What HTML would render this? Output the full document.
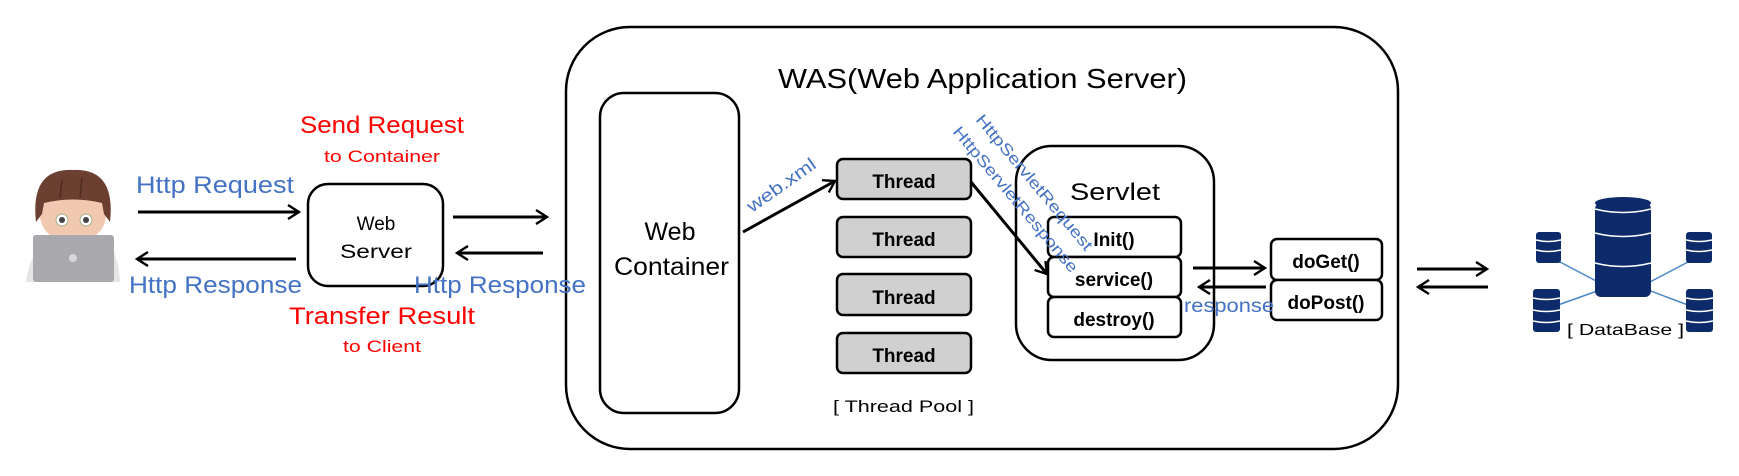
<!DOCTYPE html>
<html><head><meta charset="utf-8"><style>
html,body{margin:0;padding:0;background:#fff;}
svg{display:block;}
text{font-family:"Liberation Sans",sans-serif;}
</style></head><body>
<svg width="1739" height="476" viewBox="0 0 1739 476" xmlns="http://www.w3.org/2000/svg">
<defs>
<marker id="ah" viewBox="0 0 14 16" refX="12" refY="8" markerWidth="14" markerHeight="16" markerUnits="userSpaceOnUse" orient="auto">
<path d="M1,1 L12,8 L1,15" fill="none" stroke="#000" stroke-width="2.4"/>
</marker>
</defs>
<g fill="none" stroke="#000" stroke-width="2.5">
<rect x="566" y="27" width="832" height="422" rx="64"/>
<rect x="600" y="93" width="139" height="320" rx="24"/>
<rect x="308" y="184" width="135" height="102" rx="20"/>
<rect x="1016" y="146" width="198" height="214" rx="36"/>
</g>
<g fill="#d0d0d0" stroke="#000" stroke-width="2.5">
<rect x="837" y="159" width="134" height="40" rx="6"/>
<rect x="837" y="217" width="134" height="40" rx="6"/>
<rect x="837" y="274" width="134" height="41" rx="6"/>
<rect x="837" y="333" width="134" height="40" rx="6"/>
</g>
<g fill="#fff" stroke="#000" stroke-width="2.5">
<rect x="1048" y="217" width="133" height="40" rx="6"/>
<rect x="1048" y="257" width="133" height="40" rx="6"/>
<rect x="1048" y="297" width="133" height="40" rx="6"/>
<rect x="1271" y="239" width="111" height="41" rx="6"/>
<rect x="1271" y="280" width="111" height="40" rx="6"/>
</g>
<g stroke="#000" stroke-width="3" marker-end="url(#ah)">
<line x1="138" y1="212" x2="299" y2="212"/>
<line x1="296" y1="259" x2="137" y2="259"/>
<line x1="453" y1="217" x2="547" y2="217"/>
<line x1="543" y1="253" x2="457" y2="253"/>
<line x1="743" y1="232" x2="835" y2="181"/>
<line x1="971" y1="182" x2="1047" y2="274"/>
<line x1="1193" y1="268" x2="1265" y2="268"/>
<line x1="1266" y1="287" x2="1199" y2="287"/>
<line x1="1417" y1="269" x2="1487" y2="269"/>
<line x1="1488" y1="287" x2="1418" y2="287"/>
</g>
<g fill="#000">
<text x="778" y="88" font-size="28" textLength="409" lengthAdjust="spacingAndGlyphs">WAS(Web Application Server)</text>
<text x="670" y="240" font-size="25" text-anchor="middle" font-weight="500">Web</text>
<text x="614" y="275" font-size="25" textLength="115" lengthAdjust="spacingAndGlyphs">Container</text>
<text x="376" y="230" font-size="19" text-anchor="middle">Web</text>
<text x="340" y="258" font-size="19" textLength="72" lengthAdjust="spacingAndGlyphs">Server</text>
<text x="904" y="188" font-size="19" text-anchor="middle" font-weight="bold">Thread</text>
<text x="904" y="246" font-size="19" text-anchor="middle" font-weight="bold">Thread</text>
<text x="904" y="304" font-size="19" text-anchor="middle" font-weight="bold">Thread</text>
<text x="904" y="362" font-size="19" text-anchor="middle" font-weight="bold">Thread</text>
<text x="833" y="412" font-size="17" textLength="141" lengthAdjust="spacingAndGlyphs">[ Thread Pool ]</text>
<text x="1070" y="200" font-size="24" textLength="90" lengthAdjust="spacingAndGlyphs">Servlet</text>
<text x="1114" y="246" font-size="19" text-anchor="middle" font-weight="bold">Init()</text>
<text x="1114" y="286" font-size="19" text-anchor="middle" font-weight="bold">service()</text>
<text x="1114" y="326" font-size="19" text-anchor="middle" font-weight="bold">destroy()</text>
<text x="1326" y="268" font-size="19" text-anchor="middle" font-weight="bold">doGet()</text>
<text x="1326" y="309" font-size="19" text-anchor="middle" font-weight="bold">doPost()</text>
<text x="1567" y="335" font-size="16" textLength="117" lengthAdjust="spacingAndGlyphs">[ DataBase ]</text>
</g>
<g fill="#4472C4">
<text x="136" y="193" font-size="24" textLength="158" lengthAdjust="spacingAndGlyphs">Http Request</text>
<text x="129" y="293" font-size="24" textLength="173" lengthAdjust="spacingAndGlyphs">Http Response</text>
<text x="414" y="293" font-size="24" textLength="172" lengthAdjust="spacingAndGlyphs">Http Response</text>
<text x="1184" y="312" font-size="19" textLength="90" lengthAdjust="spacingAndGlyphs">response</text>
<text font-size="18" transform="translate(752,213) rotate(-35)" textLength="80" lengthAdjust="spacingAndGlyphs">web.xml</text>
<text font-size="16" transform="translate(975,120) rotate(50)" textLength="172" lengthAdjust="spacingAndGlyphs">HttpServletRequest</text>
<text font-size="16" transform="translate(952,132) rotate(50)" textLength="185" lengthAdjust="spacingAndGlyphs">HttpServletResponse</text>
</g>
<g fill="#ff0000">
<text x="300" y="133" font-size="24" textLength="164" lengthAdjust="spacingAndGlyphs">Send Request</text>
<text x="324" y="162" font-size="17" textLength="116" lengthAdjust="spacingAndGlyphs">to Container</text>
<text x="289" y="324" font-size="24" textLength="186" lengthAdjust="spacingAndGlyphs">Transfer Result</text>
<text x="343" y="352" font-size="17" textLength="78" lengthAdjust="spacingAndGlyphs">to Client</text>
</g>
<g stroke="#4a86c8" stroke-width="1.5">
<line x1="1560" y1="262" x2="1600" y2="283"/>
<line x1="1688" y1="262" x2="1648" y2="283"/>
<line x1="1558" y1="305" x2="1600" y2="290"/>
<line x1="1688" y1="305" x2="1648" y2="290"/>
</g>
<g fill="#0d2a6b">
<rect x="1595" y="203" width="56" height="94" rx="6"/>
<ellipse cx="1623" cy="203" rx="28" ry="6"/>
<rect x="1536" y="232" width="25" height="31" rx="3"/>
<rect x="1686" y="232" width="26" height="31" rx="3"/>
<rect x="1533" y="289" width="27" height="43" rx="3"/>
<rect x="1686" y="289" width="27" height="43" rx="3"/>
</g>
<g stroke="#fff" stroke-width="1.5" fill="none">
<path d="M1595 209 Q1623 216 1651 209"/>
<path d="M1595 233 Q1623 240 1651 233"/>
<path d="M1595 263 Q1623 270 1651 263"/>
<path d="M1536 240 Q1548 243 1561 240 M1536 250 Q1548 253 1561 250"/>
<path d="M1686 240 Q1699 243 1712 240 M1686 250 Q1699 253 1712 250"/>
<path d="M1533 298 Q1546 301 1560 298 M1533 310 Q1546 313 1560 310 M1533 321 Q1546 324 1560 321"/>
<path d="M1686 298 Q1699 301 1713 298 M1686 310 Q1699 313 1713 310 M1686 321 Q1699 324 1713 321"/>
</g>
<g>
<path d="M26 282 Q30 250 48 244 L106 244 Q118 250 120 282 Z" fill="#e6e6e6"/>
<ellipse cx="73" cy="215" rx="33" ry="28" fill="#f1c9b0"/>
<path d="M36 222 Q30 168 73 170 Q116 168 110 222 L104 214 L102 203 Q73 196 44 203 L42 214 Z" fill="#6b4030"/>
<path d="M60 198 L62 180 M80 198 L82 178" stroke="#4e2c20" stroke-width="1.5"/>
<circle cx="62" cy="220" r="6" fill="#fff" stroke="#aa8"/>
<circle cx="86" cy="220" r="6" fill="#fff" stroke="#aa8"/>
<circle cx="62" cy="220" r="3" fill="#444"/>
<circle cx="86" cy="220" r="3" fill="#444"/>
<rect x="33" y="235" width="81" height="47" rx="3" fill="#a9a9ad"/>
<circle cx="73" cy="258" r="4" fill="#d8d8d8"/>
</g>
</svg>
</body></html>
